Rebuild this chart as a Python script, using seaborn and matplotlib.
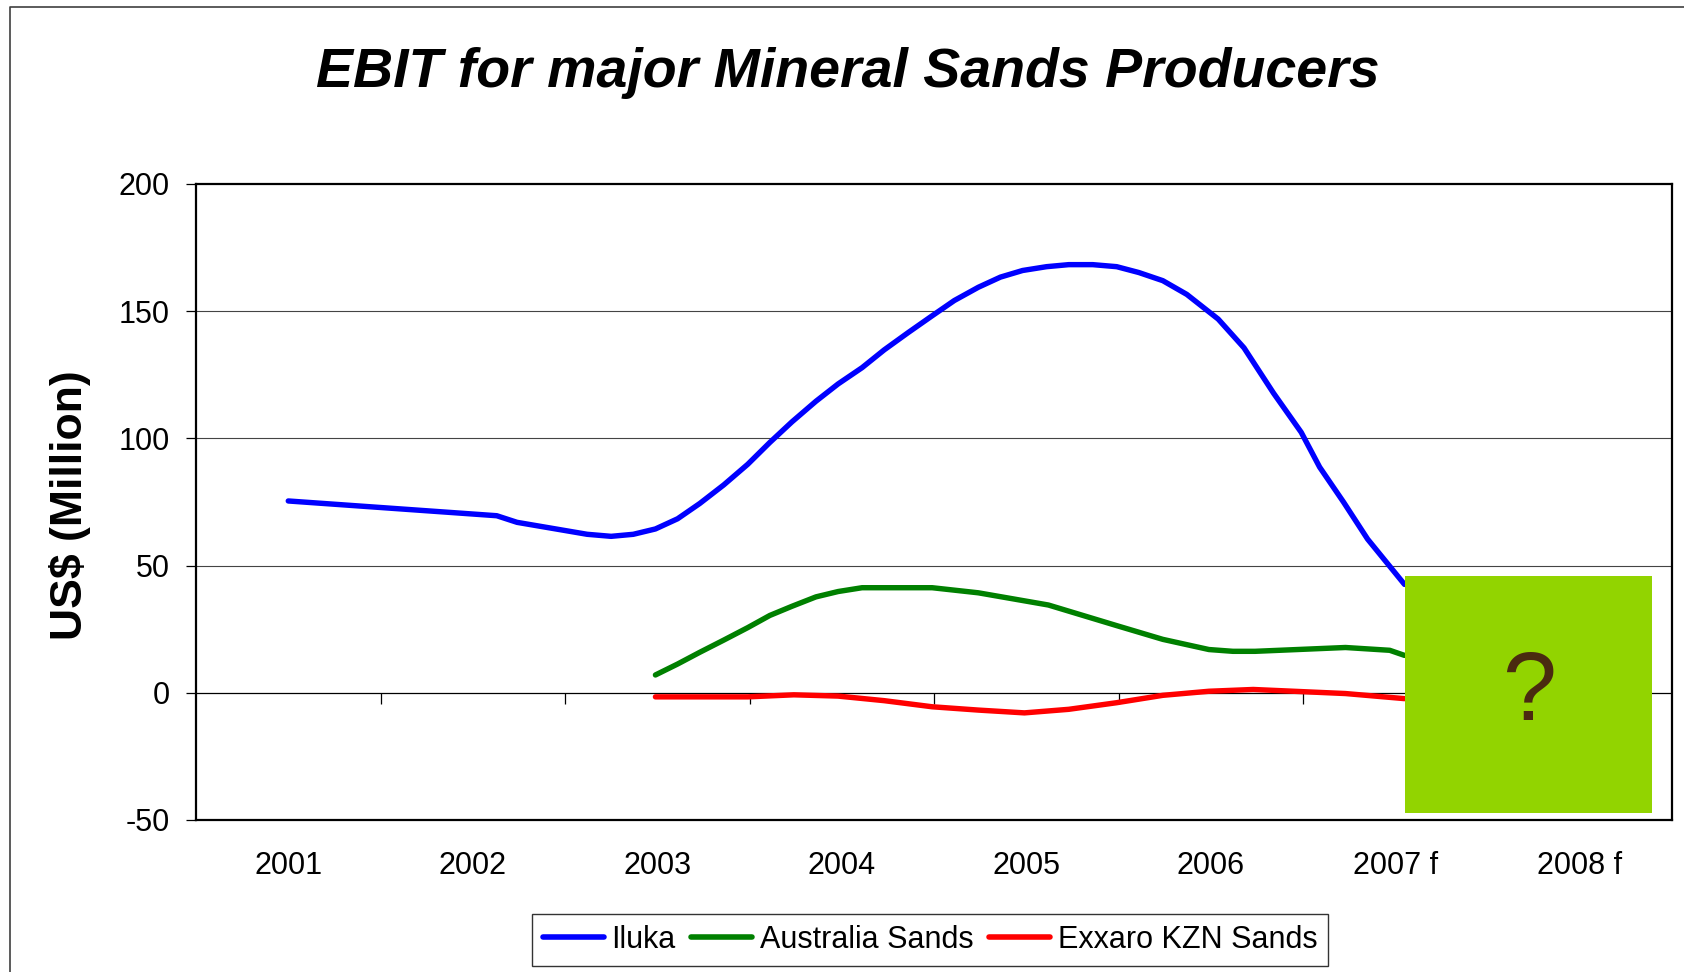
import seaborn as sns
import pandas as pd
import matplotlib.pyplot as plt
from matplotlib.patches import Rectangle
from matplotlib.lines import Line2D

sns.set_style("white")
plt.rcParams['font.family'] = ['Liberation Sans', 'DejaVu Sans']
plt.rcParams['axes.unicode_minus'] = False
for k in ['text.color', 'axes.labelcolor', 'xtick.color', 'ytick.color']:
    plt.rcParams[k] = 'black'

# Category axis (2001 sits at position 0, one unit per year)
categories = ['2001', '2002', '2003', '2004', '2005', '2006', '2007 f', '2008 f']

# EBIT, US$ million at their vertices
iluka_x = [0.0, 1.13, 1.24, 1.62, 1.75, 1.87, 1.99, 2.11, 2.23, 2.36, 2.49, 2.61,
           2.73, 2.86, 2.98, 3.11, 3.23, 3.36, 3.49, 3.61, 3.74, 3.86, 3.98, 4.11,
           4.23, 4.36, 4.49, 4.61, 4.74, 4.87, 5.04, 5.18, 5.34, 5.49, 5.59, 5.72,
           5.85, 6.05]
iluka_y = [75.4, 69.6, 67.0, 62.3, 61.5, 62.3, 64.4, 68.4, 74.4, 81.7, 89.8, 98.4,
           106.5, 114.6, 121.4, 127.8, 134.8, 141.6, 148.2, 154.2, 159.4, 163.4, 166.0, 167.5,
           168.3, 168.3, 167.5, 165.2, 162.0, 156.6, 146.9, 135.6, 117.8, 102.4, 88.7, 74.9,
           60.4, 42.6]

aus_x = [1.99, 2.11, 2.23, 2.36, 2.49, 2.61, 2.73, 2.86, 2.98, 3.11, 3.49, 3.74,
         4.12, 4.49, 4.74, 4.99, 5.12, 5.24, 5.73, 5.97, 6.05]
aus_y = [7.0, 11.3, 15.9, 20.7, 25.6, 30.4, 34.0, 37.7, 39.8, 41.3, 41.3, 39.3,
         34.5, 26.4, 21.0, 17.0, 16.3, 16.3, 17.8, 16.7, 14.7]

kzn_x = [1.99, 2.49, 2.74, 2.98, 3.23, 3.49, 3.74, 3.99, 4.23, 4.49, 4.74, 4.99,
         5.23, 5.73, 6.05]
kzn_y = [-1.6, -1.6, -0.8, -1.3, -3.1, -5.5, -6.8, -7.9, -6.5, -3.9, -1.0, 0.6,
         1.3, -0.3, -2.3]

series = ['Iluka', 'Australia Sands', 'Exxaro KZN Sands']
colors = ['#0000FF', '#008000', '#FF0000']

df = pd.concat([
    pd.DataFrame({'pos': iluka_x, 'ebit': iluka_y, 'producer': series[0]}),
    pd.DataFrame({'pos': aus_x, 'ebit': aus_y, 'producer': series[1]}),
    pd.DataFrame({'pos': kzn_x, 'ebit': kzn_y, 'producer': series[2]}),
])

fig = plt.figure(figsize=(16.84, 9.72), dpi=100)
ax = fig.add_axes([0.1164, 0.1564, 0.8765, 0.6543])

sns.lineplot(data=df, x='pos', y='ebit', hue='producer', hue_order=series,
             palette=colors, estimator=None, sort=False, linewidth=3.9,
             solid_capstyle='round', ax=ax, zorder=3)

ax.set_xlim(-0.5, 7.5)
ax.set_ylim(-50, 200)

# gridlines and zero line
for v in [50, 100, 150]:
    ax.axhline(v, color='#444444', lw=0.8, zorder=1)
ax.axhline(0, color='black', lw=0.9, zorder=2)

ax.set_yticks([-50, 0, 50, 100, 150, 200])
ax.tick_params(axis='y', direction='out', length=7, width=0.9, pad=12,
               labelsize=22, left=True, color='black')
ax.set_xticks(range(len(categories)))
ax.set_xticklabels(categories)
ax.tick_params(axis='x', length=0, pad=22, labelsize=22)
for s in ax.spines.values():
    s.set_color('black')
    s.set_linewidth(1.6)

# category separators sit on the zero line
sec = ax.secondary_xaxis(0.2)
sec.set_xticks([i + 0.5 for i in range(len(categories) - 1)])
sec.tick_params(axis='x', direction='out', length=8, width=0.9,
                color='black', labelbottom=False)
sec.spines['bottom'].set_visible(False)

ax.set_xlabel('')
ax.set_ylabel('')
fig.text(70 / 1684, 1 - 505 / 972, 'US$ (Million)', fontsize=32,
         fontweight='bold', rotation=90, ha='center', va='center')

# the 2008 forecast is hidden behind a green box
ax.add_patch(Rectangle((6.05, -47.2), 1.34, 93.3, facecolor='#92D400',
                       edgecolor='none', zorder=5))
ax.text(6.725, -10.8, '?', fontsize=70, color='#4A2A10', ha='center',
        va='baseline', zorder=6)

fig.text(848 / 1684, 1 - 73 / 972, 'EBIT for major Mineral Sands Producers',
         fontsize=40, fontweight='bold', fontstyle='italic',
         ha='center', va='center')

sns.move_legend(ax, loc='center', bbox_to_anchor=(930 / 1684, 1 - 940 / 972),
                bbox_transform=fig.transFigure, ncol=3, title=None,
                frameon=True, fancybox=False, fontsize=22, handlelength=2.0,
                handletextpad=0.25, columnspacing=0.5, borderpad=0.35)
leg = ax.get_legend()
leg.get_frame().set_edgecolor('black')
leg.get_frame().set_linewidth(1.0)
for h in leg.legend_handles:
    h.set_linewidth(4)

# slide frame
fig.add_artist(Line2D([10 / 1684, 10 / 1684, 1.0], [0.0, 1 - 7 / 972, 1 - 7 / 972],
                      transform=fig.transFigure, color='#404040', lw=1.2))

fig.savefig('out.png', dpi=100)
